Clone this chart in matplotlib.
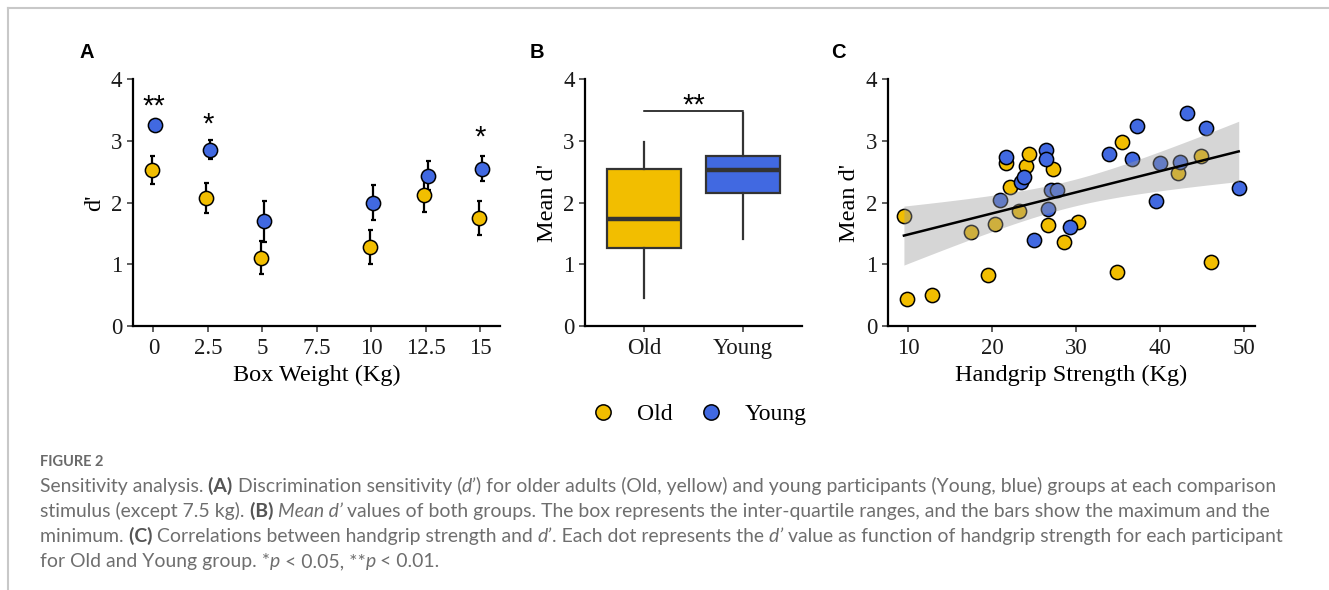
import numpy as np
import matplotlib
matplotlib.use('Agg')
import matplotlib.pyplot as plt
from matplotlib.lines import Line2D
from matplotlib.font_manager import FontProperties

# ---------------- data ----------------
weight_ticks = [0, 2.5, 5, 7.5, 10, 12.5, 15]
weights = [0, 2.5, 5, 10, 12.5, 15]
old_mean = [2.53, 2.08, 1.11, 1.28, 2.12, 1.75]
old_se = [0.22, 0.24, 0.27, 0.28, 0.27, 0.28]
young_mean = [3.26, 2.86, 1.70, 2.00, 2.44, 2.55]
young_se = [0.08, 0.15, 0.33, 0.28, 0.23, 0.20]
sig_x = [0, 2.5, 15]
sig_labels = ['**', '*', '*']
sig_y = [3.61, 3.31, 3.10]

groups = ['Old', 'Young']
old_box = dict(whislo=0.45, q1=1.27, med=1.735, q3=2.55, whishi=2.98)
young_box = dict(whislo=1.41, q1=2.16, med=2.53, q3=2.75, whishi=3.46)
box_sig_label = '**'
box_sig_y = 3.49

old_grip = [9.48, 9.88, 12.82, 17.42, 19.48, 20.28, 21.67, 22.06, 23.17, 24.0,
            24.37, 26.67, 27.18, 28.49, 30.16, 34.84, 35.48, 42.1, 44.84, 45.99]
old_dprime = [1.79, 0.44, 0.50, 1.52, 0.82, 1.65, 2.64, 2.26, 1.86, 2.59,
              2.79, 1.63, 2.54, 1.36, 1.68, 0.87, 2.99, 2.48, 2.76, 1.04]
young_grip = [20.87, 21.63, 23.41, 23.73, 24.96, 26.43, 26.35, 26.67, 27.02, 27.7,
              29.21, 33.93, 36.67, 37.22, 39.44, 40.0, 42.34, 43.21, 45.4, 49.33]
young_dprime = [2.05, 2.74, 2.34, 2.42, 1.39, 2.85, 2.70, 1.90, 2.21, 2.21,
                1.61, 2.79, 2.70, 3.24, 2.03, 2.64, 2.66, 3.46, 3.21, 2.23]

# ---------------- style ----------------
OLD_C = '#F2BE00'
YOUNG_C = '#4169E1'
SERIF = ['Liberation Serif', 'DejaVu Serif']
SANS = ['Liberation Sans', 'DejaVu Sans']
CAP = ['Lato', 'DejaVu Sans']
TICK_FS = 16.5
LABEL_FS = 17.5
MS = 105

W, H = 1329, 590
fig = plt.figure(figsize=(W / 100, H / 100), dpi=100)
fig.patch.set_facecolor('white')


def px_axes(x0, x1, y0, y1):
    return fig.add_axes([x0 / W, 1 - y1 / H, (x1 - x0) / W, (y1 - y0) / H])


def style_axes(ax):
    for s in ['top', 'right']:
        ax.spines[s].set_visible(False)
    for s in ['left', 'bottom']:
        ax.spines[s].set_linewidth(1.6)
        ax.spines[s].set_color('black')
    ax.tick_params(axis='both', length=4.5, width=1.2, color='#444444',
                   labelsize=TICK_FS, pad=3, labelcolor='#1a1a1a')
    ax.tick_params(axis='x', pad=4)
    for lab in ax.get_xticklabels() + ax.get_yticklabels():
        lab.set_fontfamily(SERIF)
    ax.set_ylim(0, 4)
    ax.set_yticks([0, 1, 2, 3, 4])
    ax.set_yticklabels(['0', '1', '2', '3', '4'], fontfamily=SERIF)


# ---------------- panel A ----------------
axA = px_axes(132.7, 500, 79.3, 326)
dodge = 0.075
xo = np.array(weights) - dodge
xy = np.array(weights) + dodge
axA.errorbar(xo, old_mean, yerr=old_se, fmt='none', ecolor='black',
             elinewidth=1.6, capsize=1.8, capthick=1.6, zorder=2)
axA.errorbar(xy, young_mean, yerr=young_se, fmt='none', ecolor='black',
             elinewidth=1.6, capsize=1.8, capthick=1.6, zorder=2)
axA.scatter(xo, old_mean, s=MS, c=OLD_C, edgecolors='black', linewidths=1.1, zorder=3)
axA.scatter(xy, young_mean, s=MS, c=YOUNG_C, edgecolors='black', linewidths=1.1, zorder=4)
for x, lab, y in zip(sig_x, sig_labels, sig_y):
    axA.text(x, y - 0.05, lab, ha='center', va='center', fontsize=21, fontfamily=SANS)
axA.set_xlim(-0.95, 15.9)
axA.set_xticks(weight_ticks)
axA.set_xticklabels([('%g' % v) for v in weight_ticks])
style_axes(axA)
axA.set_xlabel('Box Weight (Kg)', fontsize=LABEL_FS, fontfamily=SERIF, labelpad=4)
axA.set_ylabel("d'", fontsize=LABEL_FS, fontfamily=SERIF, labelpad=4)

# ---------------- panel B ----------------
axB = px_axes(585, 801.7, 79.3, 326)
stats = []
for g, b in zip(groups, [old_box, young_box]):
    d = dict(b)
    d['label'] = g
    stats.append(d)
bp = axB.bxp(stats, positions=[1, 2], widths=0.75, patch_artist=True,
             showcaps=False, showfliers=False,
             boxprops=dict(edgecolor='#333333', linewidth=1.6),
             whiskerprops=dict(color='#333333', linewidth=1.6),
             medianprops=dict(color='#333333', linewidth=3.2))
for patch, c in zip(bp['boxes'], [OLD_C, YOUNG_C]):
    patch.set_facecolor(c)
axB.plot([1, 2], [box_sig_y, box_sig_y], color='black', lw=1.1)
axB.text(1.5, box_sig_y + 0.08, box_sig_label, ha='center', va='center',
         fontsize=21, fontfamily=SANS)
axB.set_xlim(0.4, 2.6)
axB.set_xticks([1, 2])
axB.set_xticklabels(groups)
style_axes(axB)
axB.set_ylabel("Mean d'", fontsize=LABEL_FS, fontfamily=SERIF, labelpad=4)

# ---------------- panel C ----------------
axC = px_axes(887.7, 1255, 79.3, 326)
axC.scatter(old_grip, old_dprime, s=MS, c=OLD_C, edgecolors='black', linewidths=1.1, zorder=2)
axC.scatter(young_grip, young_dprime, s=MS, c=YOUNG_C, edgecolors='black', linewidths=1.1, zorder=2)
xa = np.array(old_grip + young_grip)
ya = np.array(old_dprime + young_dprime)
n = len(xa)
slope, icpt = np.polyfit(xa, ya, 1)
resid = ya - (slope * xa + icpt)
s_err = np.sqrt(np.sum(resid ** 2) / (n - 2))
sxx = np.sum((xa - xa.mean()) ** 2)
xs = np.linspace(xa.min(), xa.max(), 100)
fit = slope * xs + icpt
t_crit = 2.024  # t(0.975, df=38)
band = t_crit * s_err * np.sqrt(1 / n + (xs - xa.mean()) ** 2 / sxx)
axC.fill_between(xs, fit - band, fit + band, color='#999999', alpha=0.4,
                 linewidth=0, zorder=3)
axC.plot(xs, fit, color='black', lw=1.8, zorder=4)
axC.set_xlim(7.55, 51.27)
axC.set_xticks([10, 20, 30, 40, 50])
style_axes(axC)
axC.set_xlabel('Handgrip Strength (Kg)', fontsize=LABEL_FS, fontfamily=SERIF, labelpad=4)
axC.set_ylabel("Mean d'", fontsize=LABEL_FS, fontfamily=SERIF, labelpad=4)

# panel letters
for lab, x in [('A', 87), ('B', 537), ('C', 838)]:
    fig.text(x / W, 1 - 52 / H, lab, fontsize=14.5, fontweight='bold',
             fontfamily=SANS, ha='center', va='center')

# legend
handles = [Line2D([], [], marker='o', ls='none', markersize=11,
                  markerfacecolor=c, markeredgecolor='black', markeredgewidth=1.1)
           for c in [OLD_C, YOUNG_C]]
fig.legend(handles, groups, loc='center', bbox_to_anchor=(699 / W, 1 - 414 / H),
           ncol=2, frameon=False, prop=FontProperties(family=SERIF, size=17),
           handlelength=1.0, handletextpad=0.95, columnspacing=1.1, borderaxespad=0)

# frame lines
fig.add_artist(Line2D([8 / W, 8 / W], [1 - 8 / H, 0], color='#c8c8c8', lw=1.5))
fig.add_artist(Line2D([8 / W, 1], [1 - 8 / H, 1 - 8 / H], color='#c8c8c8', lw=1.5))

# caption
renderer = fig.canvas.get_renderer()
CAP_COLOR = '#6e6e6e'


def seg_width(text, fp):
    w1, _, _ = renderer.get_text_width_height_descent('|' + text + '|', fp, ismath=False)
    w2, _, _ = renderer.get_text_width_height_descent('||', fp, ismath=False)
    return w1 - w2


def draw_line(segs, x_px, y_px, size):
    x = x_px
    for text, weight, style in segs:
        fp = FontProperties(family=CAP, size=size, weight=weight, style=style)
        col = '#555555' if weight == 'bold' else CAP_COLOR
        fig.text(x / W, 1 - y_px / H, text, fontproperties=fp, color=col,
                 ha='left', va='baseline')
        x += seg_width(text, fp)
    return x - x_px


N, B, I = ('normal', 'normal'), ('bold', 'normal'), ('normal', 'italic')
lines = [
    [("Sensitivity analysis. ",) + N, ("(A) ",) + B, ("Discrimination sensitivity (",) + N,
     ("d’",) + I, (") for older adults (Old, yellow) and young participants (Young, blue) groups at each comparison",) + N],
    [("stimulus (except 7.5 kg). ",) + N, ("(B) ",) + B, ("Mean d’ ",) + I,
     ("values of both groups. The box represents the inter-quartile ranges, and the bars show the maximum and the",) + N],
    [("minimum. ",) + N, ("(C) ",) + B, ("Correlations between handgrip strength and ",) + N,
     ("d’",) + I, (". Each dot represents the ",) + N, ("d’ ",) + I,
     ("value as function of handgrip strength for each participant",) + N],
    [("for Old and Young group. *",) + N, ("p ",) + I, ("< 0.05, **",) + N, ("p ",) + I,
     ("< 0.01.",) + N],
]
# size to fit first line width
base = 12.0
tot = 0
for text, weight, style in lines[0]:
    tot += seg_width(text, FontProperties(family=CAP, size=base, weight=weight, style=style))
cap_size = base * 1233 / tot
for i, segs in enumerate(lines):
    draw_line(segs, 40, 492 + 25 * i, cap_size)

fig.text(40 / W, 1 - 466 / H, 'FIGURE 2', fontsize=10.5, color='#6a6a6a',
         fontfamily=CAP, fontweight='bold', ha='left', va='baseline')

fig.savefig('out.png', dpi=100, facecolor='white')
